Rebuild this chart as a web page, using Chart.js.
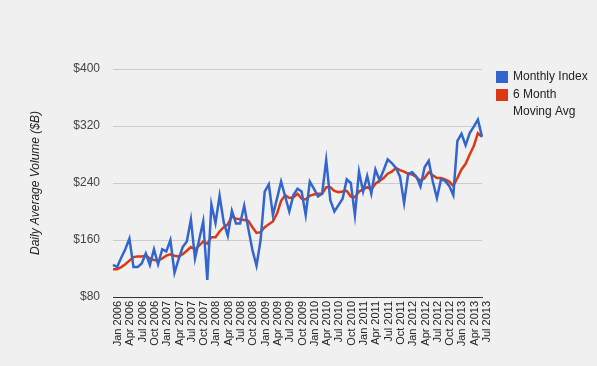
<!DOCTYPE html>
<html>
<head>
<meta charset="utf-8">
<script src="https://cdn.jsdelivr.net/npm/chart.js@4.4.1/dist/chart.umd.min.js"></script>
<style>
  html, body { margin: 0; padding: 0; background: #f0f0f0; }
  #wrap { width: 597px; height: 366px; position: relative; }
</style>
</head>
<body>
<div id="wrap"><canvas id="volumeChart" width="597" height="366"></canvas></div>
<script>
// Monthly categories, Jan 2006 .. Jul 2013
const monthNames = ['Jan', 'Feb', 'Mar', 'Apr', 'May', 'Jun', 'Jul', 'Aug', 'Sep', 'Oct', 'Nov', 'Dec'];
const years = [2006, 2007, 2008, 2009, 2010, 2011, 2012, 2013];
const months = [];
years.forEach(y => {
    monthNames.forEach((m, i) => {
        if (y === 2013 && i > 6) return;
        months.push(m + ' ' + y);
    });
});

// Monthly index values ($B)
const monthlyIndex = [
    125, 122, 135, 147, 162, 122, 122, 127, 141, 125, 147, 126,
    147, 144, 160, 114, 133, 150, 158, 189, 134, 160, 186, 104,
    210, 184, 222, 185, 166, 201, 183, 183, 208, 176, 146, 124,
    160, 228, 238, 195, 218, 242, 221, 200, 223, 232, 228, 195,
    242, 232, 221, 225, 272, 216, 200, 209, 218, 245, 240, 195,
    256, 228, 250, 225, 259, 244, 258, 273, 268, 261, 249, 212,
    253, 255, 249, 235, 262, 271, 242, 219, 245, 243, 236, 223,
    299, 309, 293, 310, 319, 329, 305
];

// 6 month moving average ($B)
const movingAvg = [
    119, 119, 122, 126, 131, 136, 137, 137, 138, 134, 132, 131,
    134, 138, 140, 138, 137, 140, 145, 150, 147, 152, 158, 155,
    164, 164, 172, 178, 182, 193, 190, 189, 188, 187, 178, 170,
    171, 178, 182, 186, 197, 215, 223, 219, 220, 225, 218, 217,
    222, 224, 225, 225, 234, 234, 229, 227, 228, 229, 221, 220,
    228, 231, 234, 231, 239, 243, 247, 253, 256, 261, 258, 256,
    253, 252, 248, 243, 247, 255, 251, 247, 247, 245, 242, 236,
    247, 259, 267, 280, 292, 310, 305
];

const seriesNames = ['Monthly Index', '6 Month Moving Avg'];
const legendLines = [['Monthly Index'], ['6 Month', 'Moving Avg']];
const seriesColors = ['#3366cc', '#dc3912'];
const yTicks = [80, 160, 240, 320, 400];

// Legend on the right, with wrapped text like the original
const sideLegend = {
    id: 'sideLegend',
    afterDraw(chart) {
        const ctx = chart.ctx;
        const x = chart.chartArea.right + 14;
        let y = 71;
        ctx.save();
        ctx.font = '12px Arial, "Liberation Sans", sans-serif';
        ctx.textBaseline = 'middle';
        legendLines.forEach((lines, i) => {
            ctx.fillStyle = chart.data.datasets[i].borderColor;
            ctx.fillRect(x, y, 12, 12);
            ctx.fillStyle = '#222';
            lines.forEach((txt, j) => {
                ctx.fillText(txt, x + 17, y + 6 + j * 17);
            });
            y += lines.length * 17 + 1;
        });
        ctx.restore();
    }
};

const ctx = document.getElementById('volumeChart').getContext('2d');
new Chart(ctx, {
    type: 'line',
    data: {
        labels: months,
        datasets: [{
            label: seriesNames[0],
            data: monthlyIndex,
            borderColor: seriesColors[0],
            backgroundColor: seriesColors[0],
            borderWidth: 2.5,
            pointRadius: 0,
            tension: 0
        }, {
            label: seriesNames[1],
            data: movingAvg,
            borderColor: seriesColors[1],
            backgroundColor: seriesColors[1],
            borderWidth: 2.5,
            pointRadius: 0,
            tension: 0
        }]
    },
    options: {
        responsive: false,
        animation: false,
        layout: { padding: { left: 24, right: 115, top: 69, bottom: 0 } },
        plugins: {
            legend: { display: false },
            tooltip: { enabled: false }
        },
        scales: {
            x: {
                offset: false,
                grid: { display: false, drawTicks: false },
                border: { display: true, color: '#333', width: 1 },
                ticks: {
                    autoSkip: false,
                    maxRotation: 90,
                    minRotation: 90,
                    padding: 4,
                    labelOffset: 5,
                    color: '#222',
                    font: { family: 'Arial, "Liberation Sans", sans-serif', size: 11 },
                    callback: function(value, index) {
                        return index % 3 === 0 ? this.getLabelForValue(value) : '';
                    }
                },
                afterFit: scale => { scale.height = 69; }
            },
            y: {
                min: 80,
                max: 400,
                afterBuildTicks: scale => { scale.ticks = yTicks.map(v => ({ value: v })); },
                grid: { color: '#cccccc', drawTicks: false },
                border: { display: false },
                ticks: {
                    padding: 13,
                    color: '#444',
                    font: { family: 'Arial, "Liberation Sans", sans-serif', size: 12 },
                    callback: v => '$' + v
                },
                title: {
                    display: true,
                    text: 'Daily Average Volume ($B)',
                    color: '#222',
                    padding: { top: 4, bottom: 4 },
                    font: { family: 'Arial, "Liberation Sans", sans-serif', size: 12, style: 'italic' }
                },
                afterFit: scale => { scale.width = 89; }
            }
        }
    },
    plugins: [sideLegend]
});
</script>
</body>
</html>
